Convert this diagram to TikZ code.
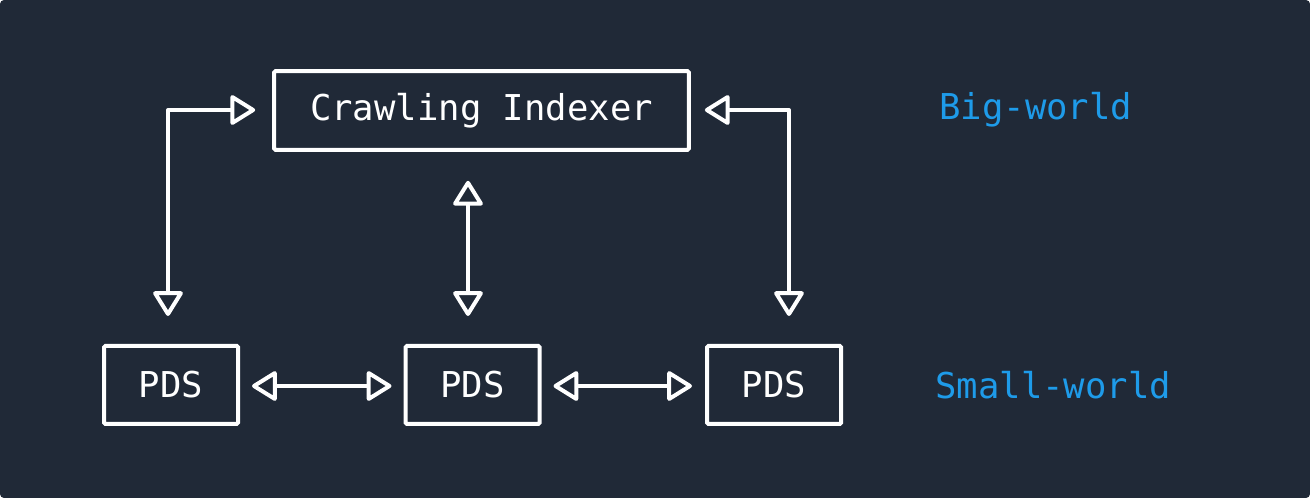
\documentclass[tikz,border=0pt]{standalone}
\usepackage{fontspec}
\setmonofont{DejaVu Sans Mono}
\usetikzlibrary{arrows.meta}
\definecolor{bgcol}{HTML}{202937}
\definecolor{fgcol}{HTML}{FFFFFF}
\definecolor{bluecol}{HTML}{1E9BE9}
\tikzset{
  box/.style={draw=fgcol, line width=3pt, rounded corners=1pt, fill=bgcol,
    text=fgcol, inner sep=0pt, font=\ttfamily\fontsize{26.7}{31}\selectfont},
  link/.style={draw=fgcol, line width=3pt, line join=round,
    {Triangle[open, length=20pt, width=24pt, round]}-{Triangle[open, length=20pt, width=24pt, round]}},
  tier/.style={text=bluecol, anchor=west, inner sep=0pt, font=\ttfamily\fontsize{26.7}{31}\selectfont}
}
\begin{document}
\begin{tikzpicture}[x=0.75pt, y=-0.75pt]
  % backdrop
  \fill[bgcol, rounded corners=3pt] (0,0) rectangle (1310,498);
  \useasboundingbox (0,0) rectangle (1310,498);

  % nodes
  \node[box, minimum width=311pt, minimum height=59pt] (ci) at (481.5,110.5) {Crawling Indexer};
  \node[box, minimum width=100.5pt, minimum height=58.5pt] (pdsA) at (171,385) {PDS};
  \node[box, minimum width=100.5pt, minimum height=58.5pt] (pdsB) at (472.5,385) {PDS};
  \node[box, minimum width=100.5pt, minimum height=58.5pt] (pdsC) at (774,385) {PDS};

  % tier labels
  \node[tier] (big) at (939,110) {Big-world};
  \node[tier] (small) at (935,385) {Small-world};

  % connectors
  \draw[link] ([shift={(-17,-0.5)}]ci.west) -| ([shift={(-3,-28)}]pdsA.north);
  \draw[link] ([shift={(-13.5,29)}]ci.south) -- ([shift={(-4.5,-28)}]pdsB.north);
  \draw[link] ([shift={(14,-0.5)}]ci.east) -| ([shift={(15,-28)}]pdsC.north);
  \draw[link] ([shift={(12,1)}]pdsA.east) -- ([shift={(-12,1)}]pdsB.west);
  \draw[link] ([shift={(12,1)}]pdsB.east) -- ([shift={(-13,1)}]pdsC.west);
\end{tikzpicture}
\end{document}
